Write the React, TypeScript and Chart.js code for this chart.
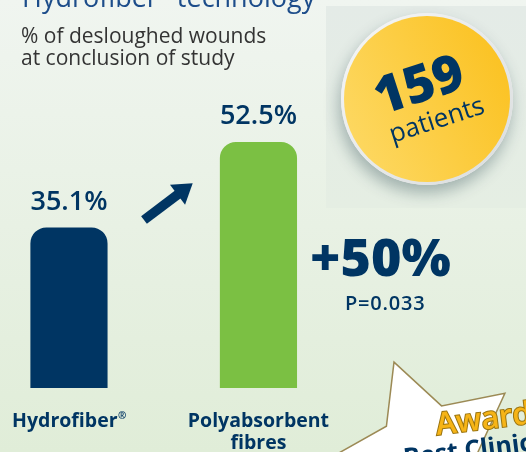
import React, { useEffect, useRef } from "react";
import { Chart, registerables } from "chart.js";

Chart.register(...registerables);

const categories: string[][] = [["Hydrofiber®"], ["Polyabsorbent", "fibres"]];
const values: number[] = [35.1, 52.5];
const valueLabels: string[] = ["35.1%", "52.5%"];
const barColors: string[] = ["#003563", "#7bc043"];
const titleParts: string[] = ["Hydrofiber", "®", " technology"];
const subtitleLines: string[] = ["% of desloughed wounds", "at conclusion of study"];
const increaseText = "+50%";
const pValueText = "P=0.033";
const patientsCount = "159";
const patientsLabel = "patients";

const NAVY = "#003563";
const FONT = "'Open Sans', 'DejaVu Sans', sans-serif";

function drawWithReg(ctx: any, text: string, x: number, y: number, font: string, smallFont: string) {
  const parts = text.split("®");
  ctx.font = font;
  const w0 = ctx.measureText(parts[0]).width;
  const w2 = parts.length > 1 ? ctx.measureText(parts[1]).width : 0;
  ctx.font = smallFont;
  const wr = parts.length > 1 ? ctx.measureText("®").width : 0;
  const total = w0 + wr + w2;
  const start = x - total / 2;
  ctx.textAlign = "left";
  ctx.font = font;
  ctx.fillText(parts[0], start, y);
  if (parts.length > 1) {
    ctx.font = smallFont;
    ctx.fillText("®", start + w0 + 0.5, y - 8);
    ctx.font = font;
    ctx.fillText(parts[1], start + w0 + wr, y);
  }
  ctx.textAlign = "center";
}

const decorPlugin = {
  id: "decor",
  beforeDraw(chart: any) {
    const { ctx, width, height } = chart;
    ctx.save();
    const bg = ctx.createLinearGradient(0, 0, 0, height);
    bg.addColorStop(0, "#f0f5f0");
    bg.addColorStop(1, "#e0edd8");
    ctx.fillStyle = bg;
    ctx.fillRect(0, 0, width, height);

    const pg = ctx.createLinearGradient(0, 6, 0, 208);
    pg.addColorStop(0, "#e4ebe7");
    pg.addColorStop(1, "#e5eee3");
    ctx.fillStyle = pg;
    ctx.fillRect(326, 6, width - 326, 202);

    const cx = 427, cy = 99;
    ctx.save();
    ctx.shadowColor = "rgba(30,60,70,0.35)";
    ctx.shadowBlur = 16;
    ctx.shadowOffsetX = -2;
    ctx.shadowOffsetY = 8;
    ctx.beginPath();
    ctx.arc(cx, cy, 86, 0, Math.PI * 2);
    ctx.fillStyle = "#eceeee";
    ctx.fill();
    ctx.restore();
    ctx.beginPath();
    ctx.arc(cx, cy, 86, 0, Math.PI * 2);
    const ring = ctx.createLinearGradient(cx - 86, cy - 86, cx + 86, cy + 86);
    ring.addColorStop(0, "#f6f7f7");
    ring.addColorStop(1, "#d9dcdd");
    ctx.fillStyle = ring;
    ctx.fill();
    ctx.beginPath();
    ctx.arc(cx, cy, 83, 0, Math.PI * 2);
    const yg = ctx.createLinearGradient(cx - 83, cy + 40, cx + 83, cy - 40);
    yg.addColorStop(0, "#fdd862");
    yg.addColorStop(1, "#fbc222");
    ctx.fillStyle = yg;
    ctx.fill();

    ctx.save();
    ctx.translate(cx - 2, cy + 4);
    ctx.rotate((-18 * Math.PI) / 180);
    ctx.fillStyle = NAVY;
    ctx.textAlign = "center";
    ctx.textBaseline = "alphabetic";
    ctx.font = `800 52px ${FONT}`;
    ctx.fillText(patientsCount, 0, -2);
    ctx.font = `400 26px ${FONT}`;
    ctx.fillText(patientsLabel, 6, 28);
    ctx.restore();

    // star
    const sx = 428, sy = 454, R = 98, r = 50;
    const a0 = (-110.3 * Math.PI) / 180;
    ctx.beginPath();
    for (let i = 0; i < 10; i++) {
      const ang = a0 + (i * Math.PI) / 5;
      const rad = i % 2 === 0 ? R : r;
      const px = sx + rad * Math.cos(ang);
      const py = sy + rad * Math.sin(ang);
      if (i === 0) ctx.moveTo(px, py);
      else ctx.lineTo(px, py);
    }
    ctx.closePath();
    ctx.fillStyle = "#ffffff";
    ctx.fill();
    ctx.strokeStyle = "#9c8a55";
    ctx.lineWidth = 1.5;
    ctx.stroke();

    ctx.save();
    ctx.translate(437, 435);
    ctx.rotate((-7 * Math.PI) / 180);
    ctx.textAlign = "left";
    ctx.font = `600 31px ${FONT}`;
    ctx.lineWidth = 2;
    ctx.strokeStyle = "#9a7410";
    ctx.strokeText("Award", 0, 0);
    ctx.fillStyle = "#f6b417";
    ctx.fillText("Award", 0, 0);
    ctx.font = `700 25px ${FONT}`;
    ctx.fillStyle = NAVY;
    ctx.fillText("Best Clinical", -36, 27);
    ctx.restore();

    ctx.restore();
  },
  afterDatasetsDraw(chart: any) {
    const { ctx } = chart;
    const meta = chart.getDatasetMeta(0);
    const xScale = chart.scales.x;
    ctx.save();
    ctx.textBaseline = "alphabetic";

    ctx.fillStyle = "#1d4d8a";
    ctx.textAlign = "left";
    ctx.font = `400 27px ${FONT}`;
    const w0 = ctx.measureText(titleParts[0]).width;
    ctx.fillText(titleParts[0], 22, 7);
    ctx.font = `400 12px ${FONT}`;
    const wr = ctx.measureText(titleParts[1]).width;
    ctx.fillText(titleParts[1], 22 + w0 + 1, -6);
    ctx.font = `400 27px ${FONT}`;
    ctx.fillText(titleParts[2], 22 + w0 + wr + 2, 7);

    ctx.fillStyle = "#333333";
    ctx.font = `400 21px ${FONT}`;
    ctx.fillText(subtitleLines[0], 21, 43);
    ctx.fillText(subtitleLines[1], 21, 65);

    ctx.textAlign = "center";
    ctx.fillStyle = NAVY;
    ctx.font = `600 27px ${FONT}`;
    meta.data.forEach((bar: any, i: number) => {
      ctx.fillText(valueLabels[i], bar.x, bar.y - 18);
    });

    const bold = `700 19.5px ${FONT}`;
    const small = `700 10px ${FONT}`;
    categories.forEach((lines, i) => {
      const x = xScale.getPixelForValue(i);
      lines.forEach((line, j) => {
        drawWithReg(ctx, line, x, 427 + j * 22, bold, small);
      });
    });

    ctx.save();
    const tx = 144, ty = 220, hx = 192.7, hy = 183.3;
    const ang = Math.atan2(hy - ty, hx - tx);
    const len = Math.hypot(hx - tx, hy - ty);
    ctx.translate(tx, ty);
    ctx.rotate(ang);
    ctx.fillStyle = NAVY;
    ctx.fillRect(0, -4.8, len - 16, 9.6);
    ctx.beginPath();
    ctx.moveTo(len, 0);
    ctx.lineTo(len - 19, -12.5);
    ctx.lineTo(len - 19, 12.5);
    ctx.closePath();
    ctx.fill();
    ctx.restore();

    ctx.textAlign = "left";
    ctx.fillStyle = NAVY;
    ctx.font = `800 52px ${FONT}`;
    ctx.fillText(increaseText, 310, 276);
    ctx.font = `600 20px ${FONT}`;
    (ctx as any).letterSpacing = "0.8px";
    ctx.fillText(pValueText, 345, 310);
    (ctx as any).letterSpacing = "0px";

    ctx.restore();
  },
};

export default function App() {
  const canvasRef = useRef<HTMLCanvasElement | null>(null);

  useEffect(() => {
    if (!canvasRef.current) return;
    const chart = new Chart(canvasRef.current, {
      type: "bar",
      data: {
        datasets: [
          {
            data: values.map((v, i) => ({ x: i, y: v })),
            backgroundColor: barColors,
            borderRadius: 16,
            borderSkipped: "start",
            barThickness: 76.5,
          },
        ],
      },
      options: {
        responsive: false,
        animation: false,
        layout: { padding: { left: 0, right: 0, top: 0, bottom: 64 } },
        plugins: { legend: { display: false }, tooltip: { enabled: false } },
        scales: {
          x: { type: "linear", min: -0.364, max: 2.412, display: false, offset: false },
          y: { type: "linear", min: 2.44, max: 81.5, display: false },
        },
      },
      plugins: [decorPlugin],
    });
    return () => chart.destroy();
  }, []);

  return (
    <div style={{ position: "fixed", left: 0, top: 0, width: 526, height: 452, overflow: "hidden" }}>
      <canvas ref={canvasRef} width={526} height={452} style={{ display: "block" }} />
    </div>
  );
}
